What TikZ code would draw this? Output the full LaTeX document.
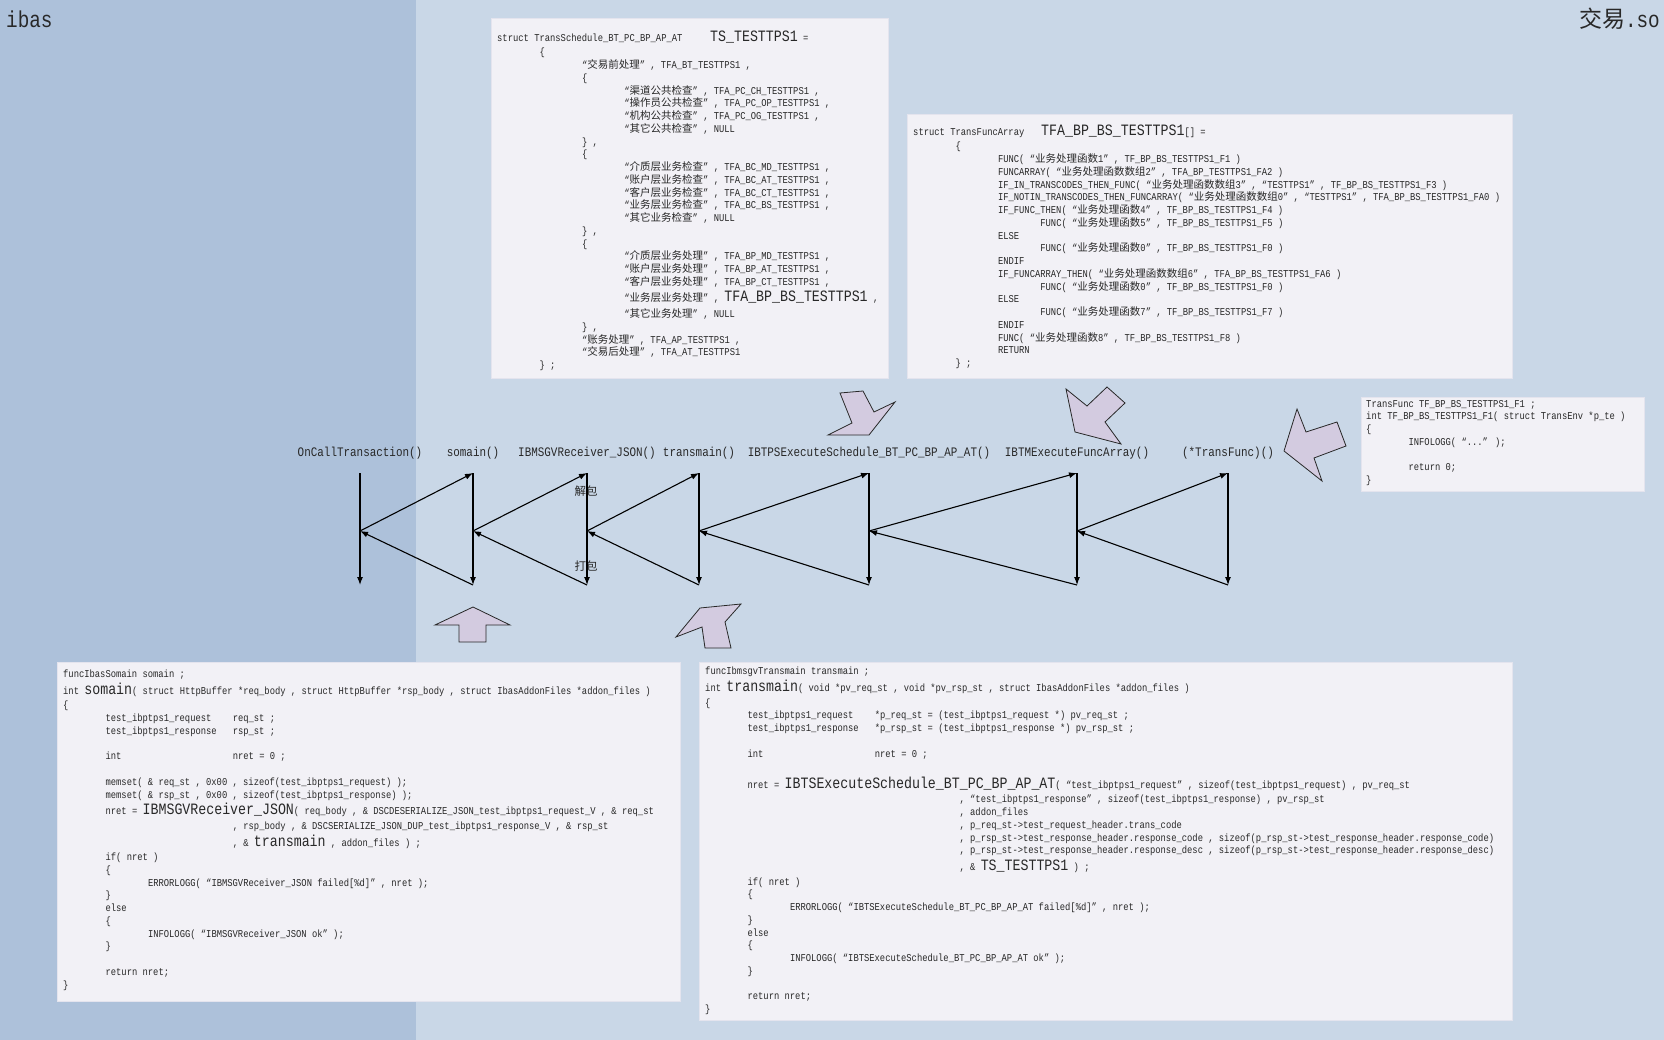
\documentclass[tikz,border=0pt]{standalone}
\usepackage{fontspec}
\usepackage{tikz}
\usetikzlibrary{arrows.meta}

\definecolor{panelleft}{RGB}{173,193,218}
\definecolor{panelright}{RGB}{201,215,231}
\definecolor{boxfill}{RGB}{242,241,246}
\definecolor{boxline}{RGB}{228,228,238}
\definecolor{arrowfill}{RGB}{211,203,224}
\definecolor{ink}{RGB}{40,40,40}

\newfontfamily\codefont{Liberation Mono}[FakeStretch=0.84]
\newfontfamily\cjk{Noto Sans CJK SC}
\newcommand{\zh}[1]{{\cjk #1}}
\newcommand{\bigname}[1]{{\fontsize{15.8}{12.7}\selectfont\rule[-6pt]{0pt}{19.5pt}#1}}
\newcommand{\tabstop}{\hspace*{42.4pt}}

\begin{document}
\catcode`\_=12
\begin{tikzpicture}
[
x=1pt, y=-1pt,
codebox/.style ={rectangle, draw=boxline, fill=boxfill, line width=1pt, inner sep=0pt, anchor=north west},
codetext/.style={anchor=north west, align=left, inner sep=0pt, text=ink, font=\codefont\fontsize{10.5}{12.75}\selectfont},
callname/.style={text=ink, inner sep=0pt, font=\codefont\fontsize{13}{15}\selectfont},
heading/.style ={text=ink, inner sep=0pt, font=\codefont\fontsize{23}{26}\selectfont},
packname/.style={text=ink, inner sep=0pt, font=\cjk\fontsize{11.5}{13}\selectfont},
line/.style    ={draw=black, line width=1.1pt, -{Latex[length=8pt, width=6pt]}},
blockarrow/.style={draw=ink, line width=0.8pt, fill=arrowfill, line join=miter}
]
\useasboundingbox (0,0) rectangle (1664,1040);
\fill[panelright] (0,0) rectangle (1664,1040);
\fill[panelleft] (0,0) rectangle (416,1040);

\node[heading, anchor=west] (ibas) at (6,19) {ibas};
\node[heading, anchor=east] (soname) at (1660,19) {\zh{交易}.so};

% code boxes
\node[codebox, minimum width=397pt, minimum height=360pt] (schedulebox) at (491,18) {};
\node[codebox, minimum width=605pt, minimum height=264pt] (arraybox) at (907,114) {};
\node[codebox, minimum width=283pt, minimum height=94pt] (funcbox) at (1361,397) {};
\node[codebox, minimum width=623pt, minimum height=339pt] (somainbox) at (57,662) {};
\node[codebox, minimum width=813pt, minimum height=358pt] (transmainbox) at (699,662) {};

\node[codetext] (schedulecode) at ([xshift=6pt, yshift=-9.5pt]schedulebox.north west) {
\makebox[213pt][l]{struct TransSchedule_BT_PC_BP_AP_AT}\bigname{TS_TESTTPS1} =\\
\tabstop\{\\
\tabstop\tabstop“\zh{交易前处理}” , TFA_BT_TESTTPS1 ,\\
\tabstop\tabstop\{\\
\tabstop\tabstop\tabstop“\zh{渠道公共检查}” , TFA_PC_CH_TESTTPS1 ,\\
\tabstop\tabstop\tabstop“\zh{操作员公共检查}” , TFA_PC_OP_TESTTPS1 ,\\
\tabstop\tabstop\tabstop“\zh{机构公共检查}” , TFA_PC_OG_TESTTPS1 ,\\
\tabstop\tabstop\tabstop“\zh{其它公共检查}” , NULL\\
\tabstop\tabstop\} ,\\
\tabstop\tabstop\{\\
\tabstop\tabstop\tabstop“\zh{介质层业务检查}” , TFA_BC_MD_TESTTPS1 ,\\
\tabstop\tabstop\tabstop“\zh{账户层业务检查}” , TFA_BC_AT_TESTTPS1 ,\\
\tabstop\tabstop\tabstop“\zh{客户层业务检查}” , TFA_BC_CT_TESTTPS1 ,\\
\tabstop\tabstop\tabstop“\zh{业务层业务检查}” , TFA_BC_BS_TESTTPS1 ,\\
\tabstop\tabstop\tabstop“\zh{其它业务检查}” , NULL\\
\tabstop\tabstop\} ,\\
\tabstop\tabstop\{\\
\tabstop\tabstop\tabstop“\zh{介质层业务处理}” , TFA_BP_MD_TESTTPS1 ,\\
\tabstop\tabstop\tabstop“\zh{账户层业务处理}” , TFA_BP_AT_TESTTPS1 ,\\
\tabstop\tabstop\tabstop“\zh{客户层业务处理}” , TFA_BP_CT_TESTTPS1 ,\\
\tabstop\tabstop\tabstop“\zh{业务层业务处理}” , \bigname{TFA_BP_BS_TESTTPS1} ,\\
\tabstop\tabstop\tabstop“\zh{其它业务处理}” , NULL\\
\tabstop\tabstop\} ,\\
\tabstop\tabstop“\zh{账务处理}” , TFA_AP_TESTTPS1 ,\\
\tabstop\tabstop“\zh{交易后处理}” , TFA_AT_TESTTPS1\\
\tabstop\} ;};

\node[codetext] (arraycode) at ([xshift=6pt, yshift=-7.5pt]arraybox.north west) {
\makebox[128pt][l]{struct TransFuncArray}\bigname{TFA_BP_BS_TESTTPS1}[] =\\
\tabstop\{\\
\tabstop\tabstop FUNC( “\zh{业务处理函数}1” , TF_BP_BS_TESTTPS1_F1 )\\
\tabstop\tabstop FUNCARRAY( “\zh{业务处理函数数组}2” , TFA_BP_TESTTPS1_FA2 )\\
\tabstop\tabstop IF_IN_TRANSCODES_THEN_FUNC( “\zh{业务处理函数数组}3” , “TESTTPS1” , TF_BP_BS_TESTTPS1_F3 )\\
\tabstop\tabstop IF_NOTIN_TRANSCODES_THEN_FUNCARRAY( “\zh{业务处理函数数组}0” , “TESTTPS1” , TFA_BP_BS_TESTTPS1_FA0 )\\
\tabstop\tabstop IF_FUNC_THEN( “\zh{业务处理函数}4” , TF_BP_BS_TESTTPS1_F4 )\\
\tabstop\tabstop\tabstop FUNC( “\zh{业务处理函数}5” , TF_BP_BS_TESTTPS1_F5 )\\
\tabstop\tabstop ELSE\\
\tabstop\tabstop\tabstop FUNC( “\zh{业务处理函数}0” , TF_BP_BS_TESTTPS1_F0 )\\
\tabstop\tabstop ENDIF\\
\tabstop\tabstop IF_FUNCARRAY_THEN( “\zh{业务处理函数数组}6” , TFA_BP_BS_TESTTPS1_FA6 )\\
\tabstop\tabstop\tabstop FUNC( “\zh{业务处理函数}0” , TF_BP_BS_TESTTPS1_F0 )\\
\tabstop\tabstop ELSE\\
\tabstop\tabstop\tabstop FUNC( “\zh{业务处理函数}7” , TF_BP_BS_TESTTPS1_F7 )\\
\tabstop\tabstop ENDIF\\
\tabstop\tabstop FUNC( “\zh{业务处理函数}8” , TF_BP_BS_TESTTPS1_F8 )\\
\tabstop\tabstop RETURN\\
\tabstop\} ;};

\node[codetext] (funccode) at ([xshift=5pt, yshift=-3pt]funcbox.north west) {
TransFunc TF_BP_BS_TESTTPS1_F1 ;\\
int TF_BP_BS_TESTTPS1_F1( struct TransEnv *p_te )\\
\{\\
\tabstop INFOLOGG( “...” );\\
~\\
\tabstop return 0;\\
\}};

\node[codetext] (somaincode) at ([xshift=6pt, yshift=-8pt]somainbox.north west) {
funcIbasSomain somain ;\\
int \bigname{somain}( struct HttpBuffer *req_body , struct HttpBuffer *rsp_body , struct IbasAddonFiles *addon_files )\\
\{\\
\tabstop\makebox[127.2pt][l]{test_ibptps1_request}req_st ;\\
\tabstop\makebox[127.2pt][l]{test_ibptps1_response}rsp_st ;\\
~\\
\tabstop\makebox[127.2pt][l]{int}nret = 0 ;\\
~\\
\tabstop memset( \& req_st , 0x00 , sizeof(test_ibptps1_request) );\\
\tabstop memset( \& rsp_st , 0x00 , sizeof(test_ibptps1_response) );\\
\tabstop nret = \bigname{IBMSGVReceiver_JSON}( req_body , \& DSCDESERIALIZE_JSON_test_ibptps1_request_V , \& req_st\\
\hspace*{169.6pt}, rsp_body , \& DSCSERIALIZE_JSON_DUP_test_ibptps1_response_V , \& rsp_st\\
\hspace*{169.6pt}, \& \bigname{transmain} , addon_files ) ;\\
\tabstop if( nret )\\
\tabstop\{\\
\tabstop\tabstop ERRORLOGG( “IBMSGVReceiver_JSON failed[\%d]” , nret );\\
\tabstop\}\\
\tabstop else\\
\tabstop\{\\
\tabstop\tabstop INFOLOGG( “IBMSGVReceiver_JSON ok” );\\
\tabstop\}\\
~\\
\tabstop return nret;\\
\}};

\node[codetext] (transmaincode) at ([xshift=6pt, yshift=-5pt]transmainbox.north west) {
funcIbmsgvTransmain transmain ;\\
int \bigname{transmain}( void *pv_req_st , void *pv_rsp_st , struct IbasAddonFiles *addon_files )\\
\{\\
\tabstop\makebox[127.2pt][l]{test_ibptps1_request}*p_req_st = (test_ibptps1_request *) pv_req_st ;\\
\tabstop\makebox[127.2pt][l]{test_ibptps1_response}*p_rsp_st = (test_ibptps1_response *) pv_rsp_st ;\\
~\\
\tabstop\makebox[127.2pt][l]{int}nret = 0 ;\\
~\\[4pt]
\tabstop nret = \bigname{IBTSExecuteSchedule_BT_PC_BP_AP_AT}( “test_ibptps1_request” , sizeof(test_ibptps1_request) , pv_req_st\\
\hspace*{254.4pt}, “test_ibptps1_response” , sizeof(test_ibptps1_response) , pv_rsp_st\\
\hspace*{254.4pt}, addon_files\\
\hspace*{254.4pt}, p_req_st->test_request_header.trans_code\\
\hspace*{254.4pt}, p_rsp_st->test_response_header.response_code , sizeof(p_rsp_st->test_response_header.response_code)\\
\hspace*{254.4pt}, p_rsp_st->test_response_header.response_desc , sizeof(p_rsp_st->test_response_header.response_desc)\\
\hspace*{254.4pt}, \& \bigname{TS_TESTTPS1} ) ;\\
\tabstop if( nret )\\
\tabstop\{\\
\tabstop\tabstop ERRORLOGG( “IBTSExecuteSchedule_BT_PC_BP_AP_AT failed[\%d]” , nret );\\
\tabstop\}\\
\tabstop else\\
\tabstop\{\\
\tabstop\tabstop INFOLOGG( “IBTSExecuteSchedule_BT_PC_BP_AP_AT ok” );\\
\tabstop\}\\
~\\
\tabstop return nret;\\
\}};

% call chain
\node[callname] (oncall) at (360,453) {OnCallTransaction()};
\node[callname] (somain) at (473,453) {somain()};
\node[callname] (receiver) at (587,453) {IBMSGVReceiver_JSON()};
\node[callname] (transmain) at (699,453) {transmain()};
\node[callname] (execute) at (869,453) {IBTPSExecuteSchedule_BT_PC_BP_AP_AT()};
\node[callname] (funcarray) at (1077,453) {IBTMExecuteFuncArray()};
\node[callname] (transfunc) at (1228,453) {(*TransFunc)()};

\path (oncall) ++(0,20) coordinate (oncall top) ++(0,58) coordinate (oncall mid) ++(0,54) coordinate (oncall bot);
\path (somain) ++(0,20) coordinate (somain top) ++(0,58) coordinate (somain mid) ++(0,54) coordinate (somain bot);
\path (receiver) ++(0,20) coordinate (receiver top) ++(0,58) coordinate (receiver mid) ++(0,54) coordinate (receiver bot);
\path (transmain) ++(0,20) coordinate (transmain top) ++(0,58) coordinate (transmain mid) ++(0,54) coordinate (transmain bot);
\path (execute) ++(0,20) coordinate (execute top) ++(0,58) coordinate (execute mid) ++(0,54) coordinate (execute bot);
\path (funcarray) ++(0,20) coordinate (funcarray top) ++(0,58) coordinate (funcarray mid) ++(0,54) coordinate (funcarray bot);
\path (transfunc) ++(0,20) coordinate (transfunc top) ++(0,58) coordinate (transfunc mid) ++(0,54) coordinate (transfunc bot);

\node[packname] (unpack) at (586,491) {解包};
\node[packname] (pack) at (586,566) {打包};

\path[line] (oncall top) -- (oncall bot);
\path[line] (oncall mid) -- (somain top);
\path[line] (somain top) -- (somain bot);
\path[line] (somain bot) -- (oncall mid);
\path[line] (somain mid) -- (receiver top);
\path[line] (receiver top) -- (receiver bot);
\path[line] (receiver bot) -- (somain mid);
\path[line] (receiver mid) -- (transmain top);
\path[line] (transmain top) -- (transmain bot);
\path[line] (transmain bot) -- (receiver mid);
\path[line] (transmain mid) -- (execute top);
\path[line] (execute top) -- (execute bot);
\path[line] (execute bot) -- (transmain mid);
\path[line] (execute mid) -- (funcarray top);
\path[line] (funcarray top) -- (funcarray bot);
\path[line] (funcarray bot) -- (execute mid);
\path[line] (funcarray mid) -- (transfunc top);
\path[line] (transfunc top) -- (transfunc bot);
\path[line] (transfunc bot) -- (funcarray mid);

% block arrows
\draw[blockarrow] (473,607) -- (510,625) -- (486,625) -- (486,642) -- (459,642) -- (459,625) -- (435,625) -- cycle;
\draw[blockarrow] (700,608) -- (741,604) -- (725,622) -- (731,648) -- (705,648) -- (702,627) -- (676,637) -- cycle;
\draw[blockarrow] (840,393) -- (852,423) -- (828,435) -- (869,435) -- (895,402) -- (874,412) -- (863,391) -- cycle;
\draw[blockarrow] (1075,432) -- (1121,444) -- (1105,422) -- (1125,403) -- (1107,387) -- (1087,406) -- (1066,389) -- cycle;
\draw[blockarrow] (1297,409) -- (1306,432) -- (1337,422) -- (1346,446) -- (1314,458) -- (1322,481) -- (1284,451) -- cycle;
\end{tikzpicture}
\end{document}
